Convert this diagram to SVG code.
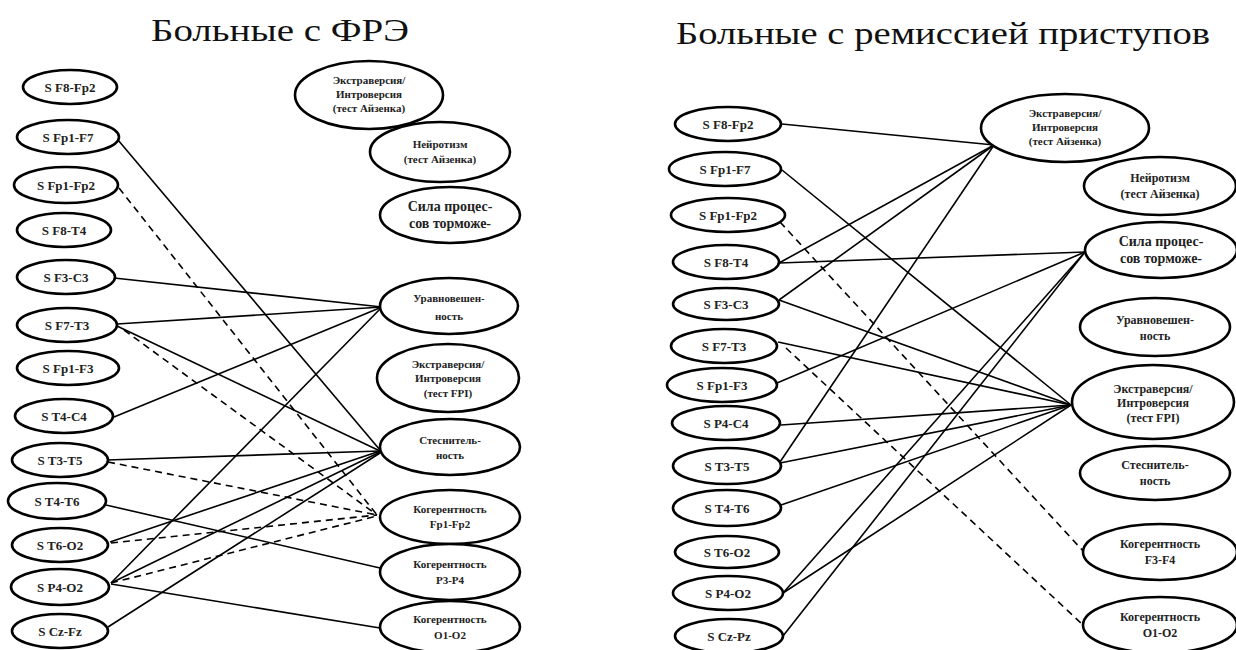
<svg xmlns="http://www.w3.org/2000/svg" width="1236" height="650" viewBox="0 0 1236 650">
<style>
.bg{fill:#fff}
.n{fill:#fff;stroke:#000;stroke-width:2.6}
.t{font-family:"Liberation Serif","DejaVu Serif",serif;font-weight:bold;fill:#222;text-anchor:middle}
.s{font-size:13px}
.r{font-size:11px}
.rr{font-size:12px}
.big{font-size:14px}
.title{font-family:"Liberation Serif","DejaVu Serif",serif;font-size:31px;fill:#111;text-anchor:middle}
.c line{stroke:#000;stroke-width:1.6;fill:none}
.c line.d{stroke-dasharray:7 5}
</style>
<rect class="bg" x="0" y="0" width="1236" height="650"/>
<text class="title" x="280" y="41" textLength="258" lengthAdjust="spacingAndGlyphs">Больные с ФРЭ</text>
<text class="title" x="943" y="44" textLength="534" lengthAdjust="spacingAndGlyphs">Больные с ремиссией приступов</text>

<g id="connectors-left" class="c">
<line x1="118" y1="140" x2="380" y2="450"/>
<line class="d" x1="119" y1="188" x2="377" y2="515"/>
<line x1="114" y1="278" x2="382" y2="307"/>
<line x1="117" y1="324" x2="382" y2="307"/>
<line x1="117" y1="326" x2="380" y2="451"/>
<line class="d" x1="124" y1="330" x2="377" y2="515"/>
<line x1="114" y1="417" x2="382" y2="307"/>
<line x1="107" y1="460" x2="380" y2="451"/>
<line class="d" x1="108" y1="462" x2="377" y2="515"/>
<line x1="106" y1="505" x2="380" y2="568"/>
<line x1="110" y1="542" x2="380" y2="451"/>
<line class="d" x1="111" y1="543" x2="377" y2="515"/>
<line x1="111" y1="583" x2="382" y2="307"/>
<line x1="111" y1="583" x2="380" y2="452"/>
<line class="d" x1="111" y1="583" x2="377" y2="516"/>
<line x1="111" y1="584" x2="380" y2="628"/>
<line x1="108" y1="627" x2="380" y2="453"/>
</g>

<g id="connectors-right" class="c">
<line x1="782" y1="124" x2="994" y2="145"/>
<line x1="782" y1="170" x2="1071" y2="405"/>
<line class="d" x1="780" y1="222" x2="1084" y2="552"/>
<line x1="779" y1="263" x2="994" y2="145"/>
<line x1="779" y1="263" x2="1085" y2="252"/>
<line x1="779" y1="300" x2="994" y2="145"/>
<line x1="779" y1="300" x2="1071" y2="405"/>
<line x1="778" y1="342" x2="1071" y2="405"/>
<line class="d" x1="786" y1="348" x2="1082" y2="624"/>
<line x1="777" y1="383" x2="1085" y2="252"/>
<line x1="781" y1="425" x2="1071" y2="405"/>
<line x1="780" y1="462" x2="994" y2="145"/>
<line x1="780" y1="463" x2="1071" y2="405"/>
<line x1="781" y1="505" x2="1071" y2="405"/>
<line x1="783" y1="593" x2="1085" y2="252"/>
<line x1="783" y1="593" x2="1071" y2="405"/>
<line x1="783" y1="636" x2="1085" y2="252"/>
</g>

<!-- Left panel: EEG nodes -->
<g id="L-F8-Fp2"><ellipse class="n" cx="70" cy="87" rx="47" ry="17"/><text class="t s" x="70" y="92">S F8-Fp2</text></g>
<g id="L-Fp1-F7"><ellipse class="n" cx="68" cy="137" rx="51" ry="17"/><text class="t s" x="68" y="142">S Fp1-F7</text></g>
<g id="L-Fp1-Fp2"><ellipse class="n" cx="66" cy="185" rx="52" ry="18"/><text class="t s" x="66" y="190">S Fp1-Fp2</text></g>
<g id="L-F8-T4"><ellipse class="n" cx="64" cy="230" rx="47" ry="17"/><text class="t s" x="64" y="235">S F8-T4</text></g>
<g id="L-F3-C3"><ellipse class="n" cx="66" cy="277" rx="49" ry="17"/><text class="t s" x="66" y="282">S F3-C3</text></g>
<g id="L-F7-T3"><ellipse class="n" cx="67" cy="325" rx="50" ry="17"/><text class="t s" x="67" y="330">S F7-T3</text></g>
<g id="L-Fp1-F3"><ellipse class="n" cx="68" cy="368" rx="51" ry="17"/><text class="t s" x="68" y="373">S Fp1-F3</text></g>
<g id="L-T4-C4"><ellipse class="n" cx="64" cy="416" rx="49" ry="17"/><text class="t s" x="64" y="421">S T4-C4</text></g>
<g id="L-T3-T5"><ellipse class="n" cx="60" cy="460" rx="48" ry="17"/><text class="t s" x="60" y="465">S T3-T5</text></g>
<g id="L-T4-T6"><ellipse class="n" cx="57" cy="501" rx="49" ry="18"/><text class="t s" x="57" y="506">S T4-T6</text></g>
<g id="L-T6-O2"><ellipse class="n" cx="60" cy="545" rx="48" ry="17"/><text class="t s" x="60" y="550">S T6-O2</text></g>
<g id="L-P4-O2"><ellipse class="n" cx="60" cy="587" rx="49" ry="18"/><text class="t s" x="60" y="592">S P4-O2</text></g>
<g id="L-Cz-Fz"><ellipse class="n" cx="60" cy="631" rx="48" ry="17"/><text class="t s" x="60" y="636">S Cz-Fz</text></g>

<!-- Left panel: psychological nodes -->
<g id="L-EI-Eysenck"><ellipse class="n" cx="369" cy="95" rx="74" ry="34"/><text class="t r" x="369" y="84">Экстраверсия/</text><text class="t r" x="369" y="98">Интроверсия</text><text class="t r" x="369" y="112">(тест Айзенка)</text></g>
<g id="L-Neuro"><ellipse class="n" cx="440" cy="152" rx="70" ry="30"/><text class="t r" x="440" y="148">Нейротизм</text><text class="t r" x="440" y="163">(тест Айзенка)</text></g>
<g id="L-Sila"><ellipse class="n" cx="450" cy="215" rx="70" ry="28"/><text class="t big" x="450" y="211">Сила процес-</text><text class="t big" x="450" y="228">сов торможе-</text></g>
<g id="L-Uravn"><ellipse class="n" cx="449" cy="306" rx="69" ry="28"/><text class="t r" x="449" y="302">Уравновешен-</text><text class="t r" x="449" y="320">ность</text></g>
<g id="L-EI-FPI"><ellipse class="n" cx="448" cy="378" rx="71" ry="34"/><text class="t r" x="448" y="368">Экстраверсия/</text><text class="t r" x="448" y="382">Интроверсия</text><text class="t r" x="448" y="397">(тест FPI)</text></g>
<g id="L-Stesn"><ellipse class="n" cx="450" cy="447" rx="70" ry="28"/><text class="t r" x="450" y="444">Стеснитель-</text><text class="t r" x="450" y="459">ность</text></g>
<g id="L-Coh-Fp1-Fp2"><ellipse class="n" cx="450" cy="517" rx="70" ry="27"/><text class="t r" x="450" y="513">Когерентность</text><text class="t r" x="450" y="528">Fp1-Fp2</text></g>
<g id="L-Coh-P3-P4"><ellipse class="n" cx="450" cy="572" rx="70" ry="28"/><text class="t r" x="450" y="568">Когерентность</text><text class="t r" x="450" y="584">P3-P4</text></g>
<g id="L-Coh-O1-O2"><ellipse class="n" cx="450" cy="627" rx="70" ry="26"/><text class="t r" x="450" y="623">Когерентность</text><text class="t r" x="450" y="639">O1-O2</text></g>

<!-- Right panel: EEG nodes -->
<g id="R-F8-Fp2"><ellipse class="n" cx="728" cy="124" rx="53" ry="17"/><text class="t s" x="728" y="129">S F8-Fp2</text></g>
<g id="R-Fp1-F7"><ellipse class="n" cx="725" cy="169" rx="56" ry="17"/><text class="t s" x="725" y="174">S Fp1-F7</text></g>
<g id="R-Fp1-Fp2"><ellipse class="n" cx="728" cy="215" rx="57" ry="17"/><text class="t s" x="728" y="220">S Fp1-Fp2</text></g>
<g id="R-F8-T4"><ellipse class="n" cx="726" cy="262" rx="53" ry="17"/><text class="t s" x="726" y="267">S F8-T4</text></g>
<g id="R-F3-C3"><ellipse class="n" cx="726" cy="304" rx="53" ry="16"/><text class="t s" x="726" y="309">S F3-C3</text></g>
<g id="R-F7-T3"><ellipse class="n" cx="724" cy="346" rx="53" ry="17"/><text class="t s" x="724" y="351">S F7-T3</text></g>
<g id="R-Fp1-F3"><ellipse class="n" cx="722" cy="385" rx="55" ry="17"/><text class="t s" x="722" y="390">S Fp1-F3</text></g>
<g id="R-P4-C4"><ellipse class="n" cx="726" cy="423" rx="54" ry="17"/><text class="t s" x="726" y="428">S P4-C4</text></g>
<g id="R-T3-T5"><ellipse class="n" cx="727" cy="466" rx="54" ry="18"/><text class="t s" x="727" y="471">S T3-T5</text></g>
<g id="R-T4-T6"><ellipse class="n" cx="727" cy="508" rx="54" ry="18"/><text class="t s" x="727" y="513">S T4-T6</text></g>
<g id="R-T6-O2"><ellipse class="n" cx="727" cy="552" rx="52" ry="16"/><text class="t s" x="727" y="557">S T6-O2</text></g>
<g id="R-P4-O2"><ellipse class="n" cx="728" cy="593" rx="55" ry="17"/><text class="t s" x="728" y="598">S P4-O2</text></g>
<g id="R-Cz-Pz"><ellipse class="n" cx="729" cy="636" rx="54" ry="17"/><text class="t s" x="729" y="641">S Cz-Pz</text></g>

<!-- Right panel: psychological nodes -->
<g id="R-EI-Eysenck"><ellipse class="n" cx="1065" cy="128" rx="84" ry="34"/><text class="t r" x="1065" y="117">Экстраверсия/</text><text class="t r" x="1065" y="131">Интроверсия</text><text class="t r" x="1065" y="145">(тест Айзенка)</text></g>
<g id="R-Neuro"><ellipse class="n" cx="1160" cy="186" rx="76" ry="29"/><text class="t rr" x="1160" y="182">Нейротизм</text><text class="t rr" x="1160" y="198">(тест Айзенка)</text></g>
<g id="R-Sila"><ellipse class="n" cx="1161" cy="250" rx="76" ry="28"/><text class="t big" x="1161" y="246">Сила процес-</text><text class="t big" x="1161" y="263">сов торможе-</text></g>
<g id="R-Uravn"><ellipse class="n" cx="1155" cy="327" rx="75" ry="29"/><text class="t rr" x="1155" y="324">Уравновешен-</text><text class="t rr" x="1155" y="340">ность</text></g>
<g id="R-EI-FPI"><ellipse class="n" cx="1153" cy="402" rx="81" ry="37"/><text class="t rr" x="1153" y="393">Экстраверсия/</text><text class="t rr" x="1153" y="407">Интроверсия</text><text class="t rr" x="1153" y="422">(тест FPI)</text></g>
<g id="R-Stesn"><ellipse class="n" cx="1155" cy="473" rx="75" ry="27"/><text class="t rr" x="1155" y="469">Стеснитель-</text><text class="t rr" x="1155" y="485">ность</text></g>
<g id="R-Coh-F3-F4"><ellipse class="n" cx="1160" cy="552" rx="77" ry="28"/><text class="t rr" x="1160" y="548">Когерентность</text><text class="t rr" x="1160" y="564">F3-F4</text></g>
<g id="R-Coh-O1-O2"><ellipse class="n" cx="1160" cy="625" rx="77" ry="28"/><text class="t rr" x="1160" y="621">Когерентность</text><text class="t rr" x="1160" y="637">O1-O2</text></g>
</svg>
